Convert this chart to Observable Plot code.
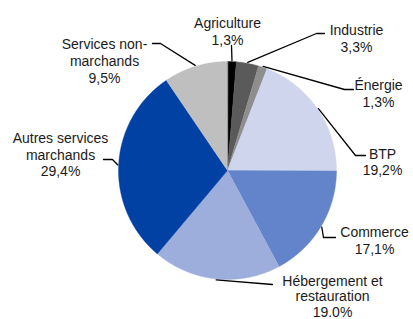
<!DOCTYPE html>
<html><head><meta charset="utf-8">
<script src="https://cdn.jsdelivr.net/npm/d3@7"></script>
<script src="https://cdn.jsdelivr.net/npm/@observablehq/plot@0.6"></script>
<style>html,body{margin:0;padding:0;background:#fff}</style>
</head><body><div id="chart"></div>
<script>
// ---- data ----
const categories = ["Agriculture","Industrie","Énergie","BTP","Commerce","Hébergement et restauration","Autres services marchands","Services non-marchands"];
const labelLines = [["Agriculture"],["Industrie"],["Énergie"],["BTP"],["Commerce"],["Hébergement et","restauration"],["Autres services","marchands"],["Services non-","marchands"]];
const values = [1.3, 3.3, 1.3, 19.2, 17.1, 19.0, 29.4, 9.5];
const valueLabels = ["1,3%","3,3%","1,3%","19,2%","17,1%","19.0%","29,4%","9,5%"];
const colors = ["#000000","#5a5a5a","#8e8e8e","#d0d5ee","#6383cb","#9eaedc","#0041a3","#bfbfbf"];

// ---- layout (pixels in a 413x319 frame) ----
const W = 413, H = 319, cx = 227, cy = 170, R = 109;
const labelBaseline = [[227,26],[356,33],[378,88],[382,157],[374,235],[332,284],[60,141],[104,46]];
const labelLineHeight = [16.5,16.5,16.5,16,16.5,15.5,16.5,17];
const leaderRest = [
  [[231,45]],
  [[316,33],[324,33]],
  [[344,89],[353,89]],
  [[355,155],[365,155]],
  [[323,237],[335,237]],
  [[272,284]],
  [[112,159],[103,159]],
  [[160,43],[152,43]]
];
const fontSize = 14;

const arcs = d3.pie().sort(null).value(d => d)(values);
const pt = (a, r) => [cx + r * Math.sin(a), cy - r * Math.cos(a)];

const slices = arcs.map((a, i) => {
  const ring = [[cx, cy]];
  const n = Math.max(2, Math.ceil((a.endAngle - a.startAngle) / (Math.PI / 360)));
  for (let k = 0; k <= n; k++) ring.push(pt(a.startAngle + (a.endAngle - a.startAngle) * k / n, R));
  ring.push([cx, cy]);
  return {type: "Feature", properties: {cat: categories[i]}, geometry: {type: "Polygon", coordinates: [ring]}};
});

const leaders = arcs.map((a, i) => {
  const mid = (a.startAngle + a.endAngle) / 2;
  return {type: "Feature", properties: {cat: categories[i]}, geometry: {type: "LineString", coordinates: [pt(mid, R + 1), ...leaderRest[i]]}};
});

const labels = categories.map((c, i) => ({
  x: labelBaseline[i][0],
  y: labelBaseline[i][1] - 0.71 * fontSize,
  lh: labelLineHeight[i],
  text: [...labelLines[i], valueLabels[i]].join("\n")
}));

const textMarks = labels.map(l => Plot.text([l], {x: "x", y: "y", text: "text", fontSize: fontSize,
  lineHeight: l.lh / fontSize, textAnchor: "middle", lineAnchor: "top", fill: "#1a1a1a"}));

const chart = Plot.plot({
  width: W, height: H, margin: 0,
  projection: {type: "identity"},
  color: {domain: categories, range: colors},
  style: {fontFamily: "'Liberation Sans', Arial, sans-serif", background: "#fff"},
  marks: [
    Plot.geo(slices, {fill: d => d.properties.cat, stroke: d => d.properties.cat, strokeWidth: 0.4}),
    Plot.geo(leaders, {stroke: "#000", strokeWidth: 1.3, fill: "none"}),
    ...textMarks
  ]
});
document.getElementById("chart").appendChild(chart);
</script>
</body></html>
